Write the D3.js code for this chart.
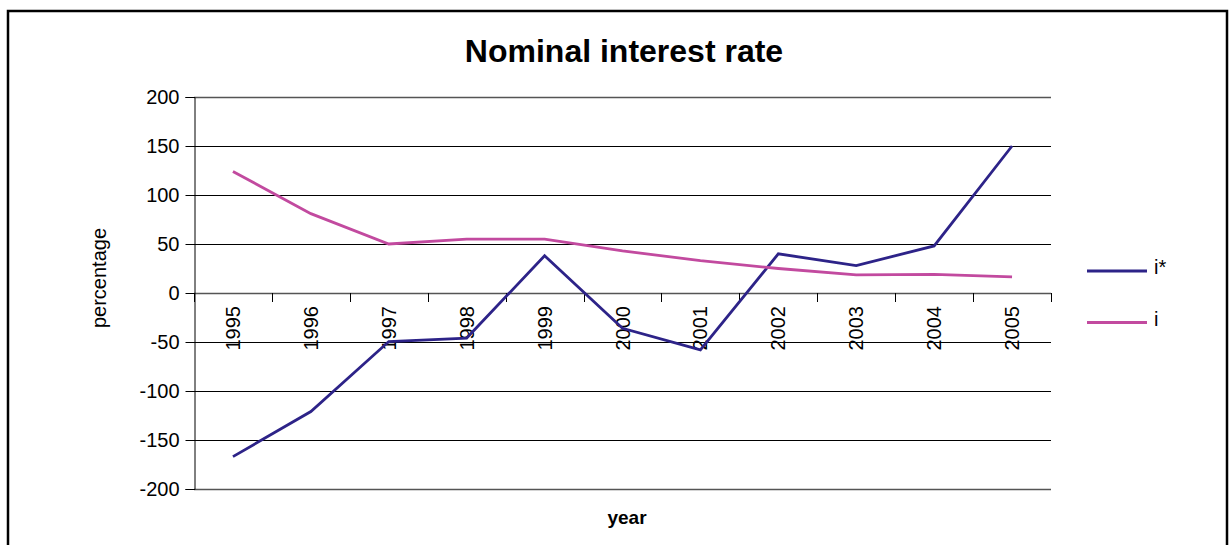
<!DOCTYPE html>
<html>
<head>
<meta charset="utf-8">
<script src="https://cdn.jsdelivr.net/npm/d3@7"></script>
<style>
  html, body { margin: 0; padding: 0; background: #fff; }
  svg { display: block; font-family: "Liberation Sans", Arial, sans-serif; }
</style>
</head>
<body>
<svg id="chart" width="1230" height="545"></svg>
<script>
// Years on the category axis
const years = ["1995", "1996", "1997", "1998", "1999", "2000", "2001", "2002", "2003", "2004", "2005"];
// Series values (percent)
const iStar = [-167, -121, -49.5, -46, 38, -36, -58, 40, 28, 48, 150];
const iNom = [124, 81, 50, 55, 55, 43, 33, 25, 18.5, 19, 16.5];
// Value axis ticks
const yTicks = [-200, -150, -100, -50, 0, 50, 100, 150, 200];
const seriesNames = ["i*", "i"];
const seriesColors = ["#2d2388", "#c24a9f"];

const svg = d3.select("#chart");

// Chart frame
svg.append("rect")
  .attr("x", 8).attr("y", 11)
  .attr("width", 1219).attr("height", 560)
  .attr("fill", "none").attr("stroke", "#000").attr("stroke-width", 2.5);

const plot = { left: 194, right: 1051, top: 97, bottom: 489 };

const x = d3.scaleBand().domain(years).range([plot.left, plot.right]).padding(0);
const y = d3.scaleLinear().domain([-200, 200]).range([plot.bottom, plot.top]);
const cx = d => x(d) + x.bandwidth() / 2;

// Horizontal gridlines
svg.append("g").selectAll("line")
  .data(yTicks)
  .join("line")
  .attr("x1", plot.left).attr("x2", plot.right)
  .attr("y1", d => Math.round(y(d)) + 0.5).attr("y2", d => Math.round(y(d)) + 0.5)
  .attr("stroke", d => (d === 200 || d === -200 || d === 0) ? "#555" : "#000")
  .attr("stroke-width", d => (d === 200 || d === -200 || d === 0) ? 1.6 : 1);

// Value axis (plain hyphen for negatives)
const yAxis = svg.append("g")
  .attr("transform", `translate(${plot.left + 0.5},0)`)
  .call(d3.axisLeft(y).tickValues(yTicks).tickSize(9).tickPadding(6).tickFormat(d => String(d)));
yAxis.select(".domain").attr("stroke", "#000");
yAxis.selectAll(".tick line").attr("stroke", "#000");
yAxis.selectAll(".tick text")
  .attr("font-size", 20).attr("fill", "#000")
  .attr("font-family", "'Liberation Sans', Arial, sans-serif");

// Category axis along the zero line: tick marks at category boundaries
const boundaries = years.map(d => x(d)).concat([plot.right]);
svg.append("g").selectAll("line")
  .data(boundaries)
  .join("line")
  .attr("x1", d => Math.round(d) + 0.5).attr("x2", d => Math.round(d) + 0.5)
  .attr("y1", y(0)).attr("y2", y(0) + 9)
  .attr("stroke", "#000").attr("stroke-width", 1);

// Rotated year labels
svg.append("g").selectAll("text")
  .data(years)
  .join("text")
  .attr("transform", d => `translate(${cx(d)},${y(0) + 13}) rotate(-90)`)
  .attr("text-anchor", "end")
  .attr("dy", "0.35em")
  .attr("font-size", 20)
  .attr("fill", "#000")
  .text(d => d);

// Series lines
const line = d3.line()
  .x((d, i) => cx(years[i]))
  .y(d => y(d));

[iStar, iNom].forEach((vals, k) => {
  svg.append("path")
    .datum(vals)
    .attr("d", line)
    .attr("fill", "none")
    .attr("stroke", seriesColors[k])
    .attr("stroke-width", 2.8)
    .attr("stroke-linejoin", "miter");
});

// Title
svg.append("text")
  .attr("x", 624).attr("y", 62)
  .attr("text-anchor", "middle")
  .attr("font-size", 32).attr("font-weight", "bold")
  .text("Nominal interest rate");

// Axis titles
svg.append("text")
  .attr("x", 627).attr("y", 524)
  .attr("text-anchor", "middle")
  .attr("font-size", 19).attr("font-weight", "bold")
  .text("year");

svg.append("text")
  .attr("transform", "translate(106,278) rotate(-90)")
  .attr("text-anchor", "middle")
  .attr("font-size", 20)
  .text("percentage");

// Legend
const legend = svg.append("g");
seriesNames.forEach((name, k) => {
  const ly = 271 + k * 51.5;
  legend.append("line")
    .attr("x1", 1087).attr("x2", 1147)
    .attr("y1", ly).attr("y2", ly)
    .attr("stroke", seriesColors[k]).attr("stroke-width", 3);
  legend.append("text")
    .attr("x", 1154).attr("y", ly + 3)
    .attr("font-size", 20)
    .text(name);
});
</script>
</body>
</html>
